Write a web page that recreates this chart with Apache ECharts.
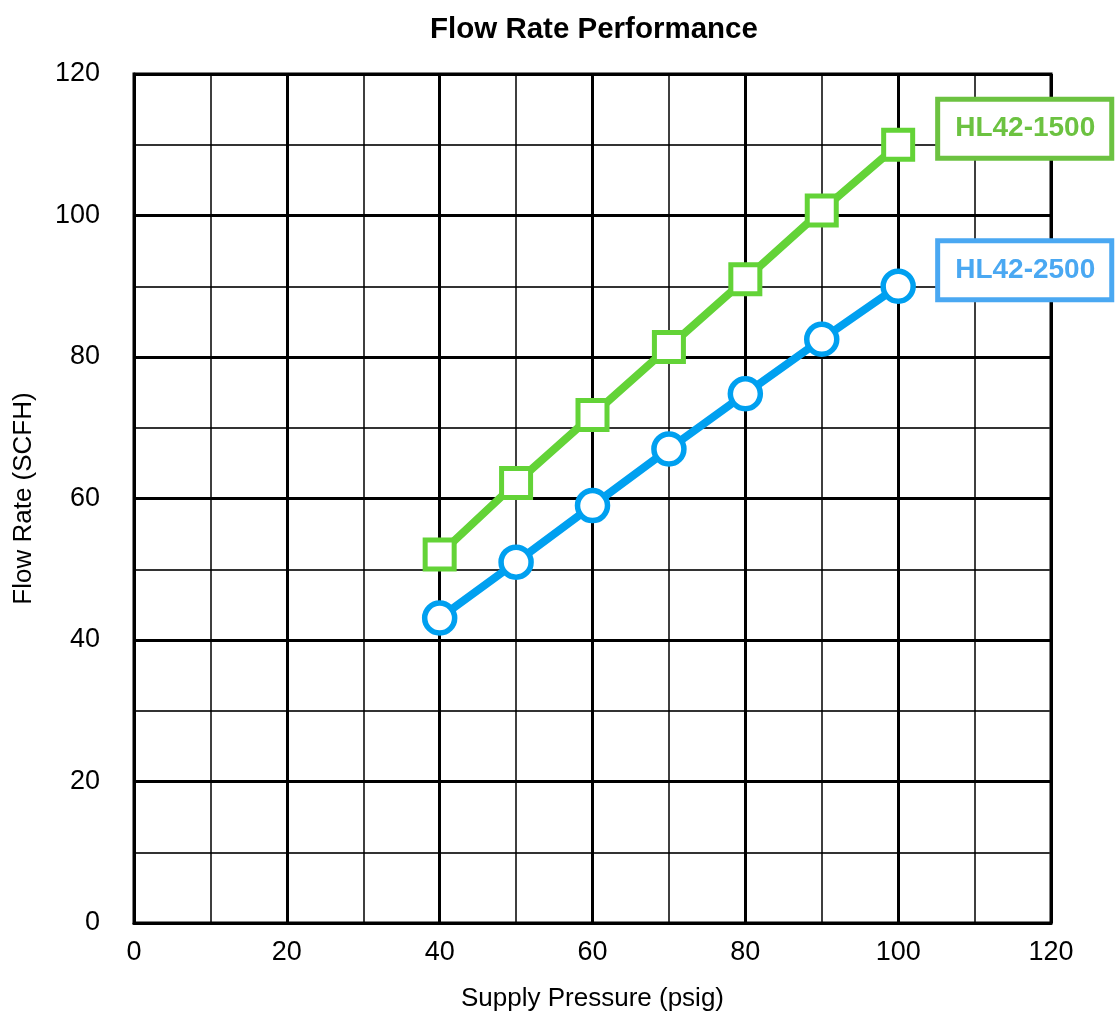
<!DOCTYPE html>
<html>
<head>
<meta charset="utf-8">
<script src="https://cdn.jsdelivr.net/npm/echarts@6/dist/echarts.min.js"></script>
<style>
  html, body { margin: 0; padding: 0; background: #fff; }
  #chart { width: 1115px; height: 1017px; }
</style>
</head>
<body>
<div id="chart"></div>
<script>
// 数据
const pressure = [40, 50, 60, 70, 80, 90, 100]
const flow1500 = [52.1, 62.2, 71.8, 81.4, 91.0, 100.7, 110.0]
const flow2500 = [43.1, 51.0, 59.0, 67.0, 74.8, 82.5, 90.0]
const seriesNames = ['HL42-1500', 'HL42-2500']

const green = '#63d337'
const greenText = '#6cc241'
const blue = '#00a0f0'
const blueText = '#4aa8f2'
const font = '"Liberation Sans", Arial, sans-serif'

const myChart = echarts.init(document.getElementById('chart'))

function pairs(ys) {
  return pressure.map((x, i) => [x, ys[i]])
}

// 右侧系列名称框
function endLabel(color) {
  return {
    show: true,
    formatter: '{a}',
    color: color,
    fontFamily: font,
    fontWeight: 'bold',
    fontSize: 28,
    lineHeight: 30,
    backgroundColor: '#fff',
    borderColor: color,
    borderWidth: 5,
    padding: [13, 14, 11, 15],
    distance: 42,
    offset: [0, -16]
  }
}

myChart.setOption({
  animation: false,
  title: {
    text: 'Flow Rate Performance',
    left: 425,
    top: 10,
    textStyle: { fontFamily: font, fontWeight: 'bold', fontSize: 29.5, color: '#000' }
  },
  grid: {
    left: 134,
    right: 64,
    top: 74,
    bottom: 91,
    show: true,
    borderColor: '#000',
    borderWidth: 3
  },
  xAxis: {
    type: 'value',
    min: 0,
    max: 120,
    interval: 20,
    name: 'Supply Pressure (psig)',
    nameLocation: 'middle',
    nameGap: 63,
    nameTextStyle: { fontFamily: font, fontSize: 26, color: '#000' },
    axisLine: { lineStyle: { color: '#000', width: 3 } },
    axisTick: { show: false },
    axisLabel: { fontFamily: font, fontSize: 27, color: '#000', margin: 16 },
    splitLine: { lineStyle: { color: '#000', width: 3 } },
    minorTick: { show: false, splitNumber: 2 },
    minorSplitLine: { show: true, lineStyle: { color: '#000', width: 1.5 } }
  },
  yAxis: {
    type: 'value',
    min: 0,
    max: 120,
    interval: 20,
    name: 'Flow Rate (SCFH)',
    nameLocation: 'middle',
    nameGap: 97,
    nameTextStyle: { fontFamily: font, fontSize: 26, color: '#000' },
    axisLine: { lineStyle: { color: '#000', width: 3 } },
    axisTick: { show: false },
    axisLabel: { fontFamily: font, fontSize: 27, color: '#000', margin: 34 },
    splitLine: { lineStyle: { color: '#000', width: 3 } },
    minorTick: { show: false, splitNumber: 2 },
    minorSplitLine: { show: true, lineStyle: { color: '#333', width: 2 } }
  },
  series: [
    {
      name: seriesNames[0],
      type: 'line',
      data: pairs(flow1500),
      symbol: 'rect',
      symbolSize: 29,
      lineStyle: { color: green, width: 8 },
      itemStyle: { color: '#fff', borderColor: green, borderWidth: 5 },
      endLabel: endLabel(greenText),
      z: 3
    },
    {
      name: seriesNames[1],
      type: 'line',
      data: pairs(flow2500),
      symbol: 'circle',
      symbolSize: 30,
      lineStyle: { color: blue, width: 8 },
      itemStyle: { color: '#fff', borderColor: blue, borderWidth: 5.5 },
      endLabel: endLabel(blueText),
      z: 3
    }
  ]
})
</script>
</body>
</html>
